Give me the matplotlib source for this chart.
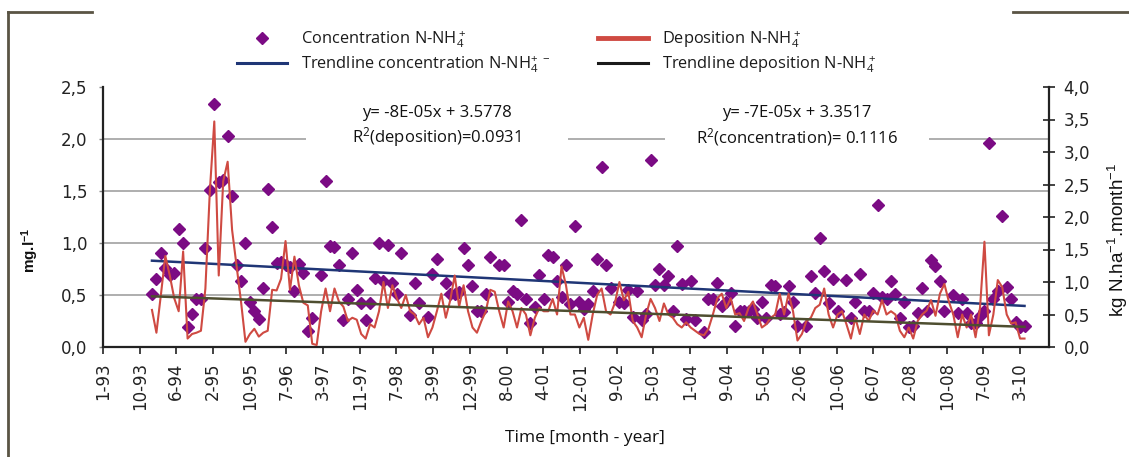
import numpy as np
import matplotlib
matplotlib.use('Agg')
import matplotlib.pyplot as plt
from matplotlib.lines import Line2D
from matplotlib.patches import Rectangle
from matplotlib.ticker import FuncFormatter

plt.rcParams['mathtext.default'] = 'regular'

nan = np.nan

# months counted from January 1993 (0 = 1-93); first sample in month 11
start_month = 11

# monthly concentration N-NH4+ [mg/l] (nan = no sample)
conc = [0.51, 0.65, 0.90, 0.76, 0.69, 0.71, 1.13, 1.00, 0.19, 0.32,
        0.46, 0.46, 0.95, 1.51, 2.34, 1.59, 1.61, 2.03, 1.45, 0.79,
        0.63, 1.00, 0.43, 0.35, 0.27, 0.57, 1.52, 1.15, 0.81, 0.82,
        0.79, 0.77, 0.54, 0.80, 0.71, 0.15, 0.28,
        nan,
        0.69, 1.60, 0.97, 0.96, 0.79, 0.26, 0.46, 0.90, 0.55, 0.42,
        0.26, 0.42, 0.66, 1.00, 0.63, 0.98, 0.62, 0.51, 0.90, nan,
        0.31, 0.62, 0.42, nan, 0.29, 0.70, 0.85, nan, 0.62, 0.51,
        0.51, 0.53, 0.95, 0.79, 0.59, 0.35, 0.35, 0.51, 0.87,
        nan,
        0.79, 0.79, 0.43, 0.54, 0.51, 1.22, 0.46, 0.23, 0.38, 0.69,
        0.46, 0.88, 0.87, 0.63, 0.48, 0.79, 0.41, 1.16, 0.43, 0.37,
        0.41, 0.54, 0.85, 1.73, 0.79, 0.57,
        nan,
        0.43, 0.42, 0.55, 0.29, 0.54, 0.26, 0.32, 1.80, 0.60, 0.75,
        0.60, 0.68,
        0.35, 0.97, 0.61, 0.27, 0.63, 0.26, nan, 0.14, 0.46, 0.46,
        0.62, 0.39, 0.43, 0.52, 0.20, 0.35, 0.35, 0.35, 0.37, 0.28,
        0.43, 0.28, 0.60, 0.59, 0.32, 0.34, 0.59, 0.43, 0.20, nan,
        0.20, 0.68, 0.52, 1.05, 0.73, 0.42, 0.65, 0.35,
        nan,
        0.64, 0.28, 0.43, 0.70, 0.35, 0.35, 0.52, 1.37, 0.48, 0.46,
        0.63, 0.51, 0.28, 0.43, 0.19, 0.20, 0.33, 0.57, 0.35, 0.84,
        0.78, 0.63, 0.35, nan, 0.50, 0.33, 0.46, 0.33, 0.23, 0.23,
        0.30, 0.35, 1.96, 0.46, 0.54, 1.26, 0.58, 0.46, 0.24, 0.19,
        0.20]

# monthly deposition N-NH4+ [kg N/ha/month]
dep = [0.57, 0.22, 0.80, 1.40, 1.10, 0.75, 0.55, 1.47, 0.13, 0.20,
       0.22, 0.25, 0.90, 2.40, 3.47, 1.10, 2.55, 2.85, 1.80, 1.25,
       0.70, 0.08, 0.20, 0.28, 0.16, 0.22, 0.25, 0.88, 0.87, 1.05,
       1.63, 0.88, 1.39, 0.95, 0.68, 0.64, 0.05, 0.03,
       0.55, 0.90, 0.55, 0.90, 0.70, 0.62, 0.40, 0.45, 0.42, 0.20,
       0.13, 0.35, 0.30, 0.55, 1.00, 0.60, 0.95, 0.75, 0.60, 0.80,
       0.55, 0.50, 0.35, 0.45, 0.15, 0.30, 0.55, 0.82, 0.45, 0.72,
       1.10, 0.62, 0.95, 0.55, 0.30, 0.22, 0.40, 0.55, 0.88,
       0.85, 0.55, 0.30, 0.70, 0.55, 0.30, 0.60, 0.50, 0.18, 0.45,
       0.60, 0.55, 0.55, 0.74, 0.50, 1.24, 0.95, 0.50, 0.50, 0.30,
       0.45, 0.11, 0.50, 0.80, 0.90, 0.55, 0.50, 0.68, 1.00, 0.72,
       0.85, 0.40, 0.30, 0.15, 0.50, 0.74, 0.60, 0.40, 0.67, 0.50,
       0.45, 0.35, 0.30, 0.38, 0.30, 0.25, 0.20, 0.18, 0.28, 0.50,
       0.75, 0.82, 0.60, 0.75, 0.50, 0.52, 0.40, 0.60, 0.70, 0.50,
       0.30, 0.35, 0.45, 0.50, 0.82, 0.50, 0.82, 0.55, 0.10, 0.20,
       0.40, 0.45, 0.60, 0.65, 0.90, 0.50, 0.30, 0.50,
       0.55, 0.35, 0.13, 0.45, 0.20, 0.50, 0.40, 0.56, 0.50, 0.72,
       0.50, 0.55, 0.50, 0.25, 0.15, 0.30, 0.13, 0.40, 0.50, 0.56,
       0.72, 0.48, 0.82, 0.97, 0.70, 0.50, 0.15, 0.50, 0.30, 0.50,
       0.15, 0.60, 1.62, 0.18, 0.50, 1.03, 0.92, 0.50, 0.36, 0.38,
       0.13, 0.13]

# linear trendlines (start / end values)
trend_months = [11, 207]
conc_trend = [0.83, 0.395]
dep_trend = [0.78, 0.31]

tick_labels = ['1-93', '10-93', '6-94', '2-95', '10-95', '7-96', '3-97',
               '11-97', '7-98', '3-99', '12-99', '8-00', '4-01', '12-01',
               '9-02', '5-03', '1-04', '9-04', '5-05', '2-06', '10-06',
               '6-07', '2-08', '10-08', '7-09', '3-10']
last_label_month = 206  # 3-10

eq_dep = ['y= -8E-05x + 3.5778', 'R$^2$(deposition)=0.0931']
eq_conc = ['y= -7E-05x + 3.3517', 'R$^2$(concentration)= 0.1116']

months = np.arange(start_month, start_month + len(conc))
dep_months = np.arange(start_month, start_month + len(dep))

PURPLE = '#7b0b84'
RED = '#cf4a42'
NAVY = '#1f3676'
OLIVE = '#4e4e30'
GRID = '#a8a8a8'
FRAME = '#5a5444'
TXT = '#222222'

W, H = 1129, 457
fig = plt.figure(figsize=(W / 100, H / 100), dpi=100)
fig.patch.set_facecolor('white')

ax = fig.add_axes([103 / W, 1 - 347 / H, (1049 - 103) / W, (347 - 87) / H])
ax2 = ax.twinx()

# gridlines and the white label boxes covering them
for g in [0.5, 1.0, 1.5, 2.0]:
    ax.axhline(g, color=GRID, lw=1.3, zorder=0.5)
ax.add_patch(Rectangle((45.6, 1.9), 58.9, 0.55, fc='white', ec='none', zorder=0.8))
ax.add_patch(Rectangle((126.3, 1.9), 59.3, 0.55, fc='white', ec='none', zorder=0.8))

ax.plot(months, conc, ls='none', marker='D', ms=6.2, color=PURPLE, mec=PURPLE, zorder=3)
ax.plot(trend_months, conc_trend, color=NAVY, lw=1.8, zorder=4)

ax2.plot(dep_months, dep, color=RED, lw=1.5, zorder=3)
ax2.plot(trend_months, dep_trend, color=OLIVE, lw=1.8, zorder=4)

ax.set_xlim(0, 212.5)
ax.set_ylim(0, 2.5)
ax2.set_ylim(0, 4.0)

comma = FuncFormatter(lambda v, p: f'{v:.1f}'.replace('.', ','))
ax.set_yticks(np.arange(0, 2.51, 0.5))
ax2.set_yticks(np.arange(0, 4.01, 0.5))
ax.yaxis.set_major_formatter(comma)
ax2.yaxis.set_major_formatter(comma)

ax.set_xticks(np.linspace(0, last_label_month, len(tick_labels)))
ax.set_xticklabels(tick_labels, rotation=90)

for lab in ax.get_xticklabels() + ax.get_yticklabels() + ax2.get_yticklabels():
    lab.set_fontfamily('DejaVu Sans')
    lab.set_fontsize(12)
    lab.set_color(TXT)

ax.tick_params(axis='x', direction='out', length=5, width=1.2, pad=6, color='#222222')
ax.tick_params(axis='y', direction='out', length=3, width=1, pad=8, color='#888888')
ax2.tick_params(axis='y', direction='inout', length=9, width=1.2, pad=6, color='#222222')

for a in (ax, ax2):
    a.spines['top'].set_visible(False)
ax.spines['right'].set_visible(False)
ax.spines['left'].set_linewidth(1.6)
ax.spines['bottom'].set_linewidth(1.6)
ax2.spines['right'].set_linewidth(1.6)
ax2.spines['left'].set_visible(False)
ax2.spines['bottom'].set_visible(False)
for s in ('left', 'bottom'):
    ax.spines[s].set_color('#222222')
ax2.spines['right'].set_color('#222222')

# trendline equations
ann_font = dict(family='Open Sans', size=12, color='#111111', ha='center', va='center', zorder=5)
ax.text(75.0, 2.25, eq_dep[0], **ann_font)
ax.text(75.0, 2.02, eq_dep[1], **ann_font)
ax.text(155.9, 2.25, eq_conc[0], **ann_font)
ax.text(155.9, 2.02, eq_conc[1], **ann_font)

# axis titles
fig.text(30 / W, 1 - 250 / H, 'mg.l$^{-1}$', rotation=90, ha='center', va='center',
         family='Liberation Sans', weight='bold', size=11, color='#111111')
fig.text(1118 / W, 1 - 240 / H, 'kg N.ha$^{-1}$.month$^{-1}$', rotation=90, ha='center',
         va='center', family='Liberation Sans', size=13.5, color='#111111')
fig.text(585 / W, 1 - 438 / H, 'Time [month - year]', ha='center', va='center',
         family='Open Sans', size=12.5, color='#111111')

# legend (two columns)
leg_font = dict(family='Open Sans', size=11.8)
h_conc = Line2D([], [], ls='none', marker='D', ms=6.2, color=PURPLE)
h_ctr = Line2D([], [], color=NAVY, lw=2.2)
h_dep = Line2D([], [], color=RED, lw=3.5)
h_dtr = Line2D([], [], color='#1a1a1a', lw=2.2)
leg_kw = dict(loc='upper left', frameon=False, borderpad=0, borderaxespad=0,
              handlelength=3.05, handletextpad=0.85, labelspacing=0.2, prop=leg_font)
leg1 = fig.legend([h_conc, h_ctr],
                  ['Concentration N-NH$_4^+$', 'Trendline concentration N-NH$_4^{+\\;-}$'],
                  bbox_to_anchor=(237 / W, 1 - 28 / H), **leg_kw)
leg2 = fig.legend([h_dep, h_dtr],
                  ['Deposition N-NH$_4^+$', 'Trendline deposition N-NH$_4^+$'],
                  bbox_to_anchor=(598 / W, 1 - 28 / H), **leg_kw)
for leg in (leg1, leg2):
    for t in leg.get_texts():
        t.set_color('#1a1a1a')

# outer frame pieces
fig.add_artist(Line2D([8 / W, 8 / W], [0, 1 - 12 / H], transform=fig.transFigure,
                      color=FRAME, lw=2))
fig.add_artist(Line2D([8 / W, 92 / W], [1 - 12 / H, 1 - 12 / H], transform=fig.transFigure,
                      color=FRAME, lw=2))
fig.add_artist(Line2D([1013 / W, 1], [1 - 12 / H, 1 - 12 / H], transform=fig.transFigure,
                      color=FRAME, lw=2))

fig.savefig('out.png', dpi=100, facecolor='white')
